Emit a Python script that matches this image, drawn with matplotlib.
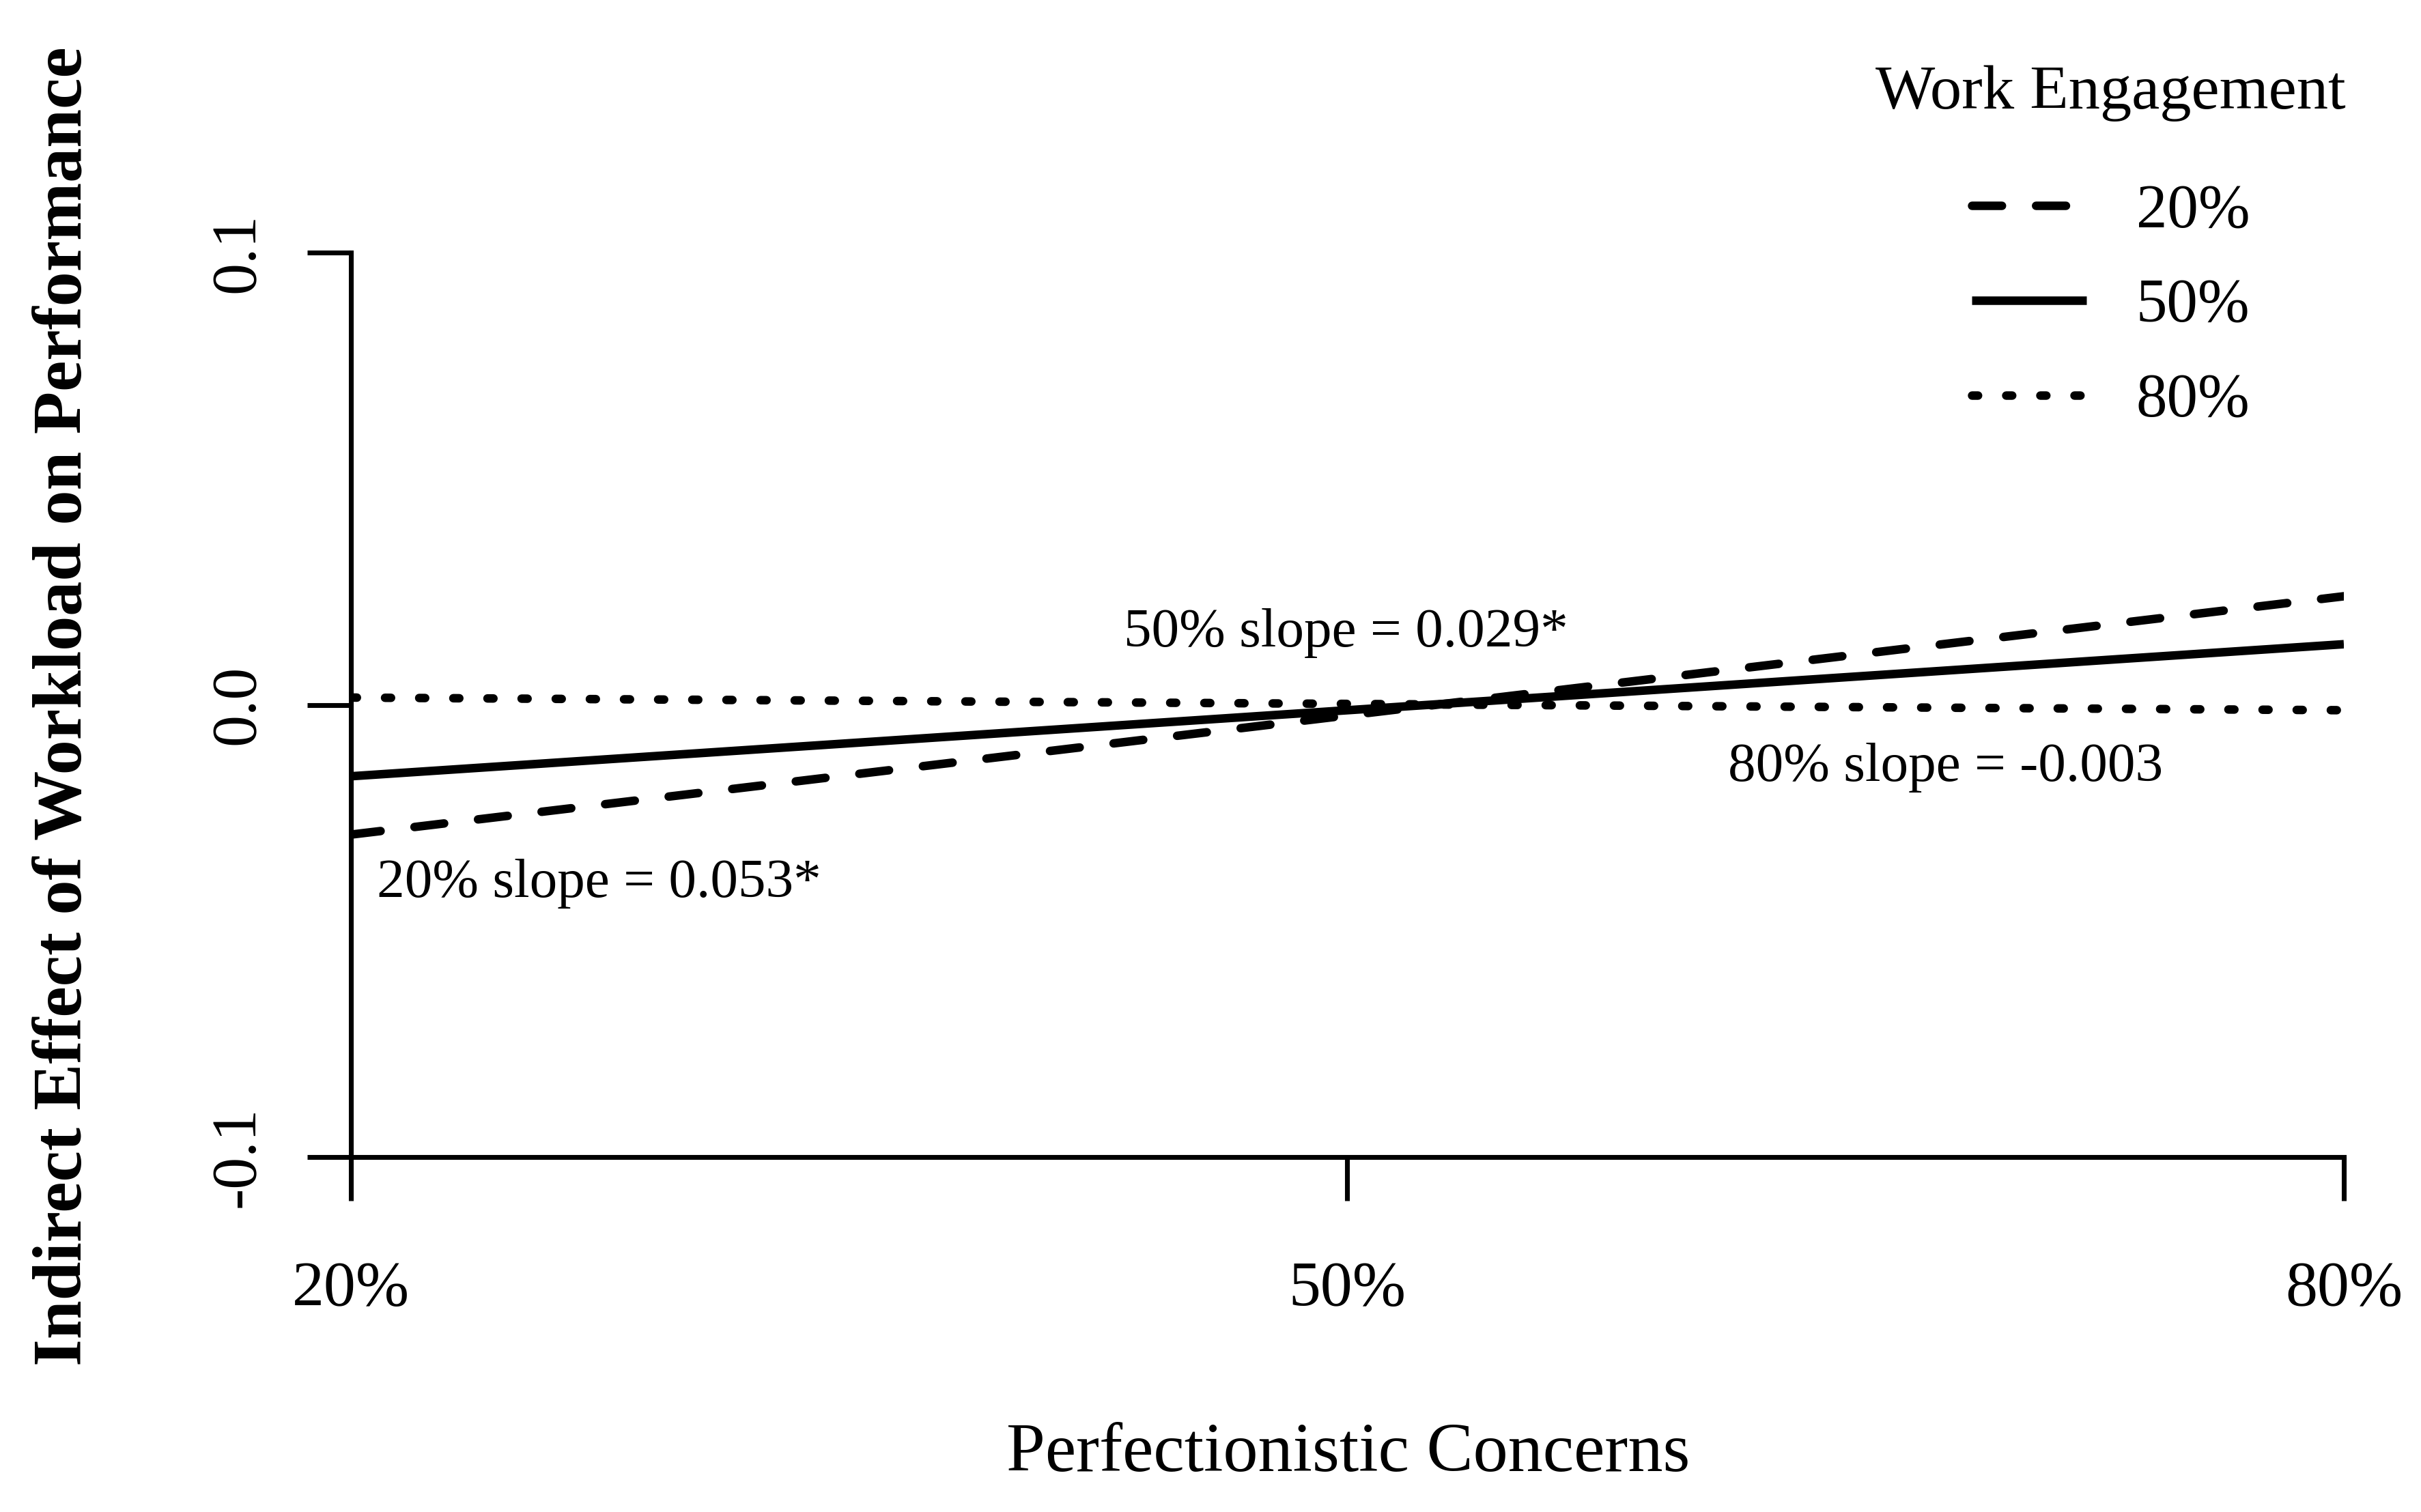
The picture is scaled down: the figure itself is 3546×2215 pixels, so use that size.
import matplotlib
matplotlib.use("Agg")
import matplotlib.pyplot as plt

# values
pc_levels = [20, 80]
pc_ticks = [20, 50, 80]
pc_ticklabels = ["20%", "50%", "80%"]
y_ticks = [-0.1, 0.0, 0.1]
y_ticklabels = ["-0.1", "0.0", "0.1"]

we_labels = ["20%", "50%", "80%"]
we_20 = [-0.0287, 0.0240]
we_50 = [-0.0158, 0.0134]
we_80 = [0.0016, -0.0012]

slope_text = ["20% slope = 0.053*", "50% slope = 0.029*", "80% slope = -0.003"]
slope_x = [20.78, 43.27, 61.46]
slope_y = [-0.0396, 0.0159, -0.0139]

plt.rcParams['font.family'] = ['Liberation Serif', 'DejaVu Serif']

fig = plt.figure(figsize=(3546 / 300, 2215 / 300), dpi=300)
ax = fig.add_axes([0.14495, 0.23476, 0.82318, 0.5982])

lw = 3.0
ax.plot(pc_levels, we_20, color='black', lw=lw, dashes=(3.5, 4.0),
        dash_capstyle='round', label=we_labels[0])
ax.plot(pc_levels, we_50, color='black', lw=lw, solid_capstyle='butt',
        label=we_labels[1])
ax.plot(pc_levels, we_80, color='black', lw=lw, dashes=(0.7, 3.3),
        dash_capstyle='round', label=we_labels[2])

ax.set_xlim(20, 80)
ax.set_ylim(-0.1, 0.1)
ax.set_xticks(pc_ticks)
ax.set_xticklabels(pc_ticklabels)
ax.set_yticks(y_ticks)
ax.set_yticklabels(y_ticklabels, rotation=90, va='center')

for s in ['top', 'right']:
    ax.spines[s].set_visible(False)
for s in ['left', 'bottom']:
    ax.spines[s].set_linewidth(1.7)

ax.tick_params(axis='x', length=15.4, width=1.7, pad=21, labelsize=22.5)
ax.tick_params(axis='y', length=15.4, width=1.7, pad=14, labelsize=22.5)

for t, xx, yy in zip(slope_text, slope_x, slope_y):
    ax.text(xx, yy, t, fontsize=19.5, ha='left', va='center')

fig.text(0.5568, 0.038, "Perfectionistic Concerns", fontsize=24.5,
         ha='center', va='center')
fig.text(0.0268, 0.533, "Indirect Effect of Workload on Performance",
         fontsize=24.5, fontweight='bold', rotation=90, ha='center', va='center')

leg = ax.legend(title="Work Engagement", loc='upper right',
                bbox_to_anchor=(0.969, 0.957), bbox_transform=fig.transFigure,
                frameon=False, fontsize=21.8, title_fontsize=22.2,
                handlelength=1.85, handletextpad=0.8, labelspacing=0.62,
                borderpad=0, borderaxespad=0)
leg._legend_box.sep = 22

fig.savefig("out.png", dpi=300)
